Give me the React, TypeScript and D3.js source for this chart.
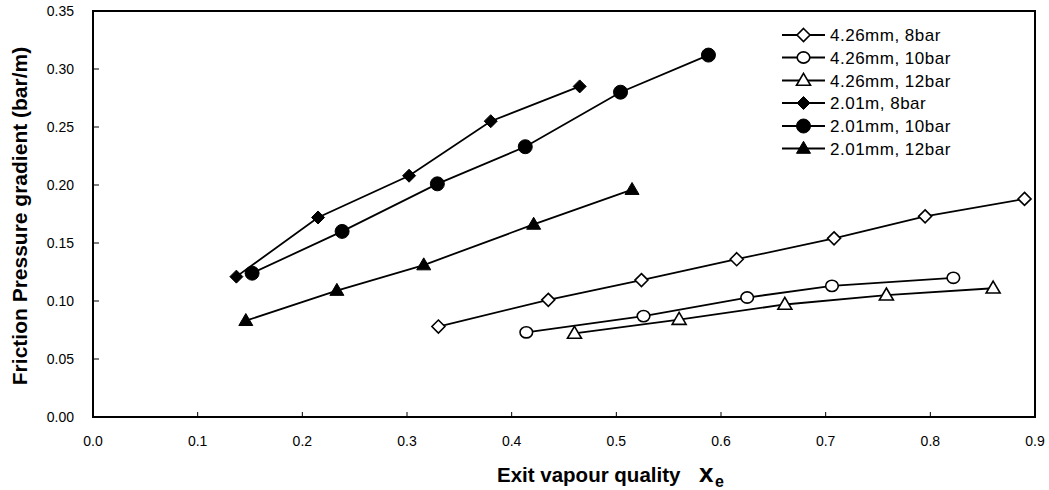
import React from "react";
import * as d3 from "d3";

const W = 1049;
const H = 490;

const xTicks = [0, 0.1, 0.2, 0.3, 0.4, 0.5, 0.6, 0.7, 0.8, 0.9];
const yTicks = [0, 0.05, 0.1, 0.15, 0.2, 0.25, 0.3, 0.35];

const s426_8x = [0.33, 0.435, 0.524, 0.615, 0.708, 0.795, 0.89];
const s426_8y = [0.078, 0.101, 0.118, 0.136, 0.154, 0.173, 0.188];
const s426_10x = [0.414, 0.526, 0.625, 0.706, 0.822];
const s426_10y = [0.073, 0.087, 0.103, 0.113, 0.120];
const s426_12x = [0.460, 0.560, 0.661, 0.758, 0.86];
const s426_12y = [0.072, 0.084, 0.097, 0.105, 0.111];
const s201_8x = [0.137, 0.215, 0.302, 0.380, 0.465];
const s201_8y = [0.121, 0.172, 0.208, 0.255, 0.285];
const s201_10x = [0.152, 0.238, 0.329, 0.413, 0.504, 0.588];
const s201_10y = [0.124, 0.160, 0.201, 0.233, 0.280, 0.312];
const s201_12x = [0.146, 0.233, 0.316, 0.421, 0.515];
const s201_12y = [0.083, 0.109, 0.131, 0.166, 0.196];

const seriesNames = [
  "4.26mm, 8bar",
  "4.26mm, 10bar",
  "4.26mm, 12bar",
  "2.01m, 8bar",
  "2.01mm, 10bar",
  "2.01mm, 12bar",
];

type Shape = "diamond" | "circle" | "triangle";
const series = [
  { name: seriesNames[0], xs: s426_8x, ys: s426_8y, shape: "diamond" as Shape, filled: false },
  { name: seriesNames[1], xs: s426_10x, ys: s426_10y, shape: "circle" as Shape, filled: false },
  { name: seriesNames[2], xs: s426_12x, ys: s426_12y, shape: "triangle" as Shape, filled: false },
  { name: seriesNames[3], xs: s201_8x, ys: s201_8y, shape: "diamond" as Shape, filled: true },
  { name: seriesNames[4], xs: s201_10x, ys: s201_10y, shape: "circle" as Shape, filled: true },
  { name: seriesNames[5], xs: s201_12x, ys: s201_12y, shape: "triangle" as Shape, filled: true },
];

const L = 93, R = 1035, T = 11, B = 417;
const x = d3.scaleLinear().domain([0, 0.9]).range([L, R]);
const y = d3.scaleLinear().domain([0, 0.35]).range([B, T]);

function Marker({ cx, cy, shape, filled }: { cx: number; cy: number; shape: Shape; filled: boolean }) {
  const fill = filled ? "#000" : "#fff";
  const sw = 1.6;
  if (shape === "circle") {
    return filled ? (
      <ellipse cx={cx} cy={cy} rx={7} ry={7} fill={fill} stroke="#000" strokeWidth={1} />
    ) : (
      <ellipse cx={cx} cy={cy} rx={6.3} ry={5.6} fill={fill} stroke="#000" strokeWidth={sw} />
    );
  }
  if (shape === "diamond") {
    const r = 6.5;
    const d = `M${cx},${cy - r}L${cx + r},${cy}L${cx},${cy + r}L${cx - r},${cy}Z`;
    return <path d={d} fill={fill} stroke="#000" strokeWidth={filled ? 1 : sw} />;
  }
  const w = 7, h = 12;
  const d = `M${cx},${cy - h * 0.6}L${cx + w},${cy + h * 0.4}L${cx - w},${cy + h * 0.4}Z`;
  return <path d={d} fill={fill} stroke="#000" strokeWidth={filled ? 1 : sw} strokeLinejoin="miter" />;
}

export default function App() {
  const line = d3.line<[number, number]>().x((d) => x(d[0])).y((d) => y(d[1]));
  const fontFamily = "Arial, 'Liberation Sans', Helvetica, sans-serif";
  const legX0 = 782, legX1 = 825, legM = 803.5, legT = 830;
  const legY = [35, 57.5, 80.5, 103, 126, 148.5];
  return (
    <svg width={W} height={H} style={{ position: "absolute", left: 0, top: 0, background: "#fff" }} fontFamily={fontFamily}>
      <rect x={0} y={0} width={W} height={H} fill="#fff" />
      {xTicks.map((t, i) => (
        <g key={"xt" + i}>
          <line x1={x(t)} x2={x(t)} y1={B} y2={B - 5} stroke="#000" strokeWidth={1} />
          <text x={x(t)} y={446} fontSize={14} textAnchor="middle" fill="#000">
            {t.toFixed(1)}
          </text>
        </g>
      ))}
      {yTicks.map((t, i) => (
        <g key={"yt" + i}>
          <line x1={L} x2={L + 6} y1={y(t)} y2={y(t)} stroke="#000" strokeWidth={1} />
          <text x={74} y={y(t) + 5} fontSize={14} textAnchor="end" fill="#000">
            {t.toFixed(2)}
          </text>
        </g>
      ))}
      <rect x={L} y={T} width={R - L} height={B - T} fill="none" stroke="#000" strokeWidth={2} />
      {series.map((s, si) => {
        const pts: [number, number][] = s.xs.map((v, i) => [v, s.ys[i]]);
        return (
          <g key={"s" + si}>
            <path d={line(pts) || ""} fill="none" stroke="#000" strokeWidth={1.8} />
            {pts.map((p, i) => (
              <Marker key={i} cx={x(p[0])} cy={y(p[1])} shape={s.shape} filled={s.filled} />
            ))}
          </g>
        );
      })}
      {series.map((s, i) => (
        <g key={"l" + i}>
          <line x1={legX0} x2={legX1} y1={legY[i]} y2={legY[i]} stroke="#000" strokeWidth={1.8} />
          <Marker cx={legM} cy={legY[i]} shape={s.shape} filled={s.filled} />
          <text x={legT} y={legY[i] + 6} fontSize={17} letterSpacing={0.5} fill="#000">
            {s.name}
          </text>
        </g>
      ))}
      <text x={497} y={482} fontSize={20.5} fontWeight="bold" fill="#000">
        Exit vapour quality
      </text>
      <text x={699} y={482} fontSize={26} fontWeight="bold" fill="#000">
        x
      </text>
      <text x={715} y={487} fontSize={16} fontWeight="bold" fill="#000">
        e
      </text>
      <text
        transform="translate(27,216) rotate(-90)"
        fontSize={21}
        fontWeight="bold"
        textAnchor="middle"
        fill="#000"
      >
        Friction Pressure gradient (bar/m)
      </text>
    </svg>
  );
}
